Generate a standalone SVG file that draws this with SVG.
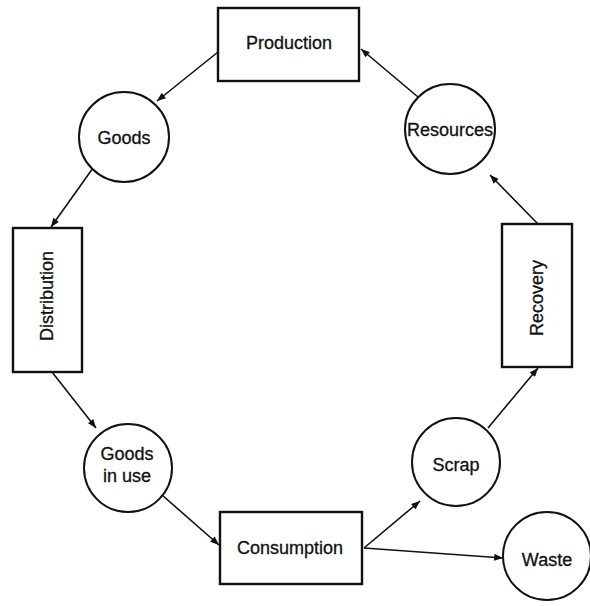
<svg xmlns="http://www.w3.org/2000/svg" width="590" height="606" viewBox="0 0 590 606">
<style>
.box{fill:#fff;stroke:#111;stroke-width:2.4}
.circ{fill:#fff;stroke:#111;stroke-width:2}
.lbl{font-family:"Liberation Sans",Arial,sans-serif;font-size:18px;fill:#111;stroke:#111;stroke-width:0.3;text-anchor:middle;dominant-baseline:central}
.edge{stroke:#111;stroke-width:1.6;fill:none;marker-end:url(#ah)}
</style>
<defs>
<marker id="ah" viewBox="0 0 10 8" refX="10" refY="4" markerWidth="10" markerHeight="7" markerUnits="userSpaceOnUse" orient="auto">
<path d="M0,0 L10,4 L0,8 z" fill="#111"/>
</marker>
</defs>
<rect width="590" height="606" fill="#fff"/>
<g id="connectors">
<line class="edge" x1="418" y1="97" x2="361" y2="49"/>
<line class="edge" x1="218" y1="52" x2="157" y2="101"/>
<line class="edge" x1="93" y1="168" x2="51" y2="227"/>
<line class="edge" x1="52" y1="372" x2="96" y2="428"/>
<line class="edge" x1="162" y1="495" x2="219" y2="545"/>
<line class="edge" x1="364" y1="548" x2="420" y2="501"/>
<line class="edge" x1="364" y1="548" x2="503" y2="558"/>
<line class="edge" x1="488" y1="428" x2="538" y2="368"/>
<line class="edge" x1="538" y1="224" x2="490" y2="175"/>
</g>
<g id="production"><rect class="box" x="218" y="8" width="141" height="73"/><text class="lbl" x="289" y="43">Production</text></g>
<g id="goods"><circle class="circ" cx="124" cy="137" r="45"/><text class="lbl" x="124" y="138">Goods</text></g>
<g id="distribution"><rect class="box" x="13" y="228" width="69" height="144"/><text class="lbl" transform="translate(47,296) rotate(-90)">Distribution</text></g>
<g id="goods-in-use"><circle class="circ" cx="128" cy="468" r="44"/><text class="lbl" x="127" y="454">Goods</text><text class="lbl" x="127" y="476">in use</text></g>
<g id="consumption"><rect class="box" x="220" y="512" width="142" height="72"/><text class="lbl" x="290" y="548">Consumption</text></g>
<g id="scrap"><circle class="circ" cx="456" cy="462" r="44"/><text class="lbl" x="456" y="465">Scrap</text></g>
<g id="waste"><circle class="circ" cx="547" cy="556" r="44"/><text class="lbl" x="547" y="560">Waste</text></g>
<g id="recovery"><rect class="box" x="502" y="224" width="70" height="143"/><text class="lbl" transform="translate(537,298) rotate(-90)">Recovery</text></g>
<g id="resources"><circle class="circ" cx="450" cy="129" r="45"/><text class="lbl" x="450" y="130">Resources</text></g>
</svg>
